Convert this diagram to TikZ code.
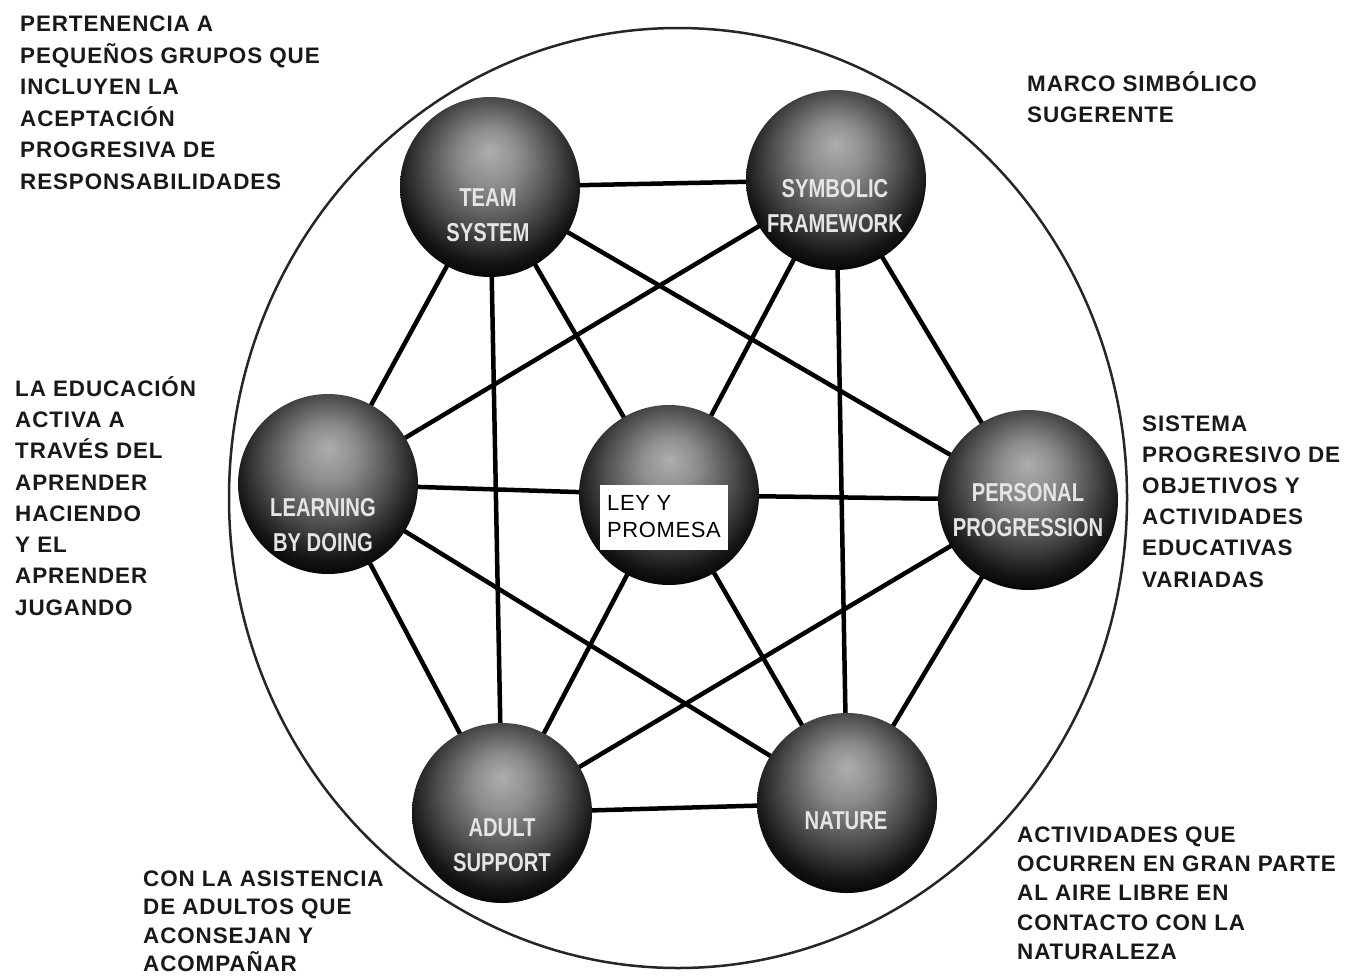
\documentclass[tikz,border=0pt]{standalone}
\usepackage{fontspec}
\setmainfont{Liberation Sans}
\newfontfamily\lblfont[LetterSpace=4]{Liberation Sans}
\newfontfamily\boxfont[LetterSpace=3]{Liberation Sans}
\usetikzlibrary{backgrounds}
\pgfdeclareradialshading{sphereshade}{\pgfpoint{0bp}{10bp}}{%
  color(0bp)=(black!32); color(8bp)=(black!45); color(18bp)=(black!70); color(26bp)=(black!92); color(31bp)=(black); color(50bp)=(black)}
\newcommand\sqz[1]{\scalebox{0.78}[1]{#1}}
\begin{document}
\begin{tikzpicture}[x=1bp,y=-1bp,
  edge/.style={line width=4.5bp, black, line cap=round},
  sphere/.style={circle, minimum size=180bp, inner sep=0pt, shading=sphereshade},
  sptext/.style={text=black!10, font=\bfseries\fontsize{26}{35}\selectfont, align=center, inner sep=0pt},
  lbl/.style={font=\lblfont\bfseries\fontsize{22.5}{#1}\selectfont, align=left, inner sep=0pt, anchor=north west, text=black!90}]
\useasboundingbox (0,0) rectangle (1353,975);

% spheres
\node[sphere] (ts) at (490,187) {};
\node[sphere] (sf) at (836,180) {};
\node[sphere] (ld) at (328,484) {};
\node[sphere] (c) at (669,495) {};
\node[sphere] (pp) at (1028,500) {};
\node[sphere] (adult) at (502,813) {};
\node[sphere] (na) at (847,803) {};

% sphere texts
\node[sptext] (tst) at (488,215) {\sqz{TEAM}\\\sqz{SYSTEM}};
\node[sptext] (sft) at (835,206) {\sqz{SYMBOLIC}\\\sqz{FRAMEWORK}};
\node[sptext] (ldt) at (323,525) {\sqz{LEARNING}\\\sqz{BY DOING}};
\node[sptext] (ppt) at (1028,510) {\sqz{PERSONAL}\\\sqz{PROGRESSION}};
\node[sptext] (adt) at (502,845) {\sqz{ADULT}\\\sqz{SUPPORT}};
\node[sptext] (nat) at (846,821) {\sqz{NATURE}};

% center box
\node[fill=white, inner xsep=2bp, inner ysep=3bp, minimum width=128bp, minimum height=65bp, align=left,
      font=\boxfont\fontsize{22}{27}\selectfont] (cbox) at (664,517) {LEY Y\\PROMESA};

% outer labels
\node[lbl=31.6] (l1) at (20,31.5-22) {\rule{0pt}{22bp}PERTENENCIA A\\PEQUEÑOS GRUPOS QUE\\INCLUYEN LA\\ACEPTACIÓN\\PROGRESIVA DE\\RESPONSABILIDADES};
\node[lbl=31.6] (l2) at (1027,91-22) {\rule{0pt}{22bp}MARCO SIMBÓLICO\\SUGERENTE};
\node[lbl=31.4] (l3) at (15,396-22) {\rule{0pt}{22bp}LA EDUCACIÓN\\ACTIVA A\\TRAVÉS DEL\\APRENDER\\HACIENDO\\Y EL\\APRENDER\\JUGANDO};
\node[lbl=31.3] (l4) at (1142,431-22) {\rule{0pt}{22bp}SISTEMA\\PROGRESIVO DE\\OBJETIVOS Y\\ACTIVIDADES\\EDUCATIVAS\\VARIADAS};
\node[lbl=28.5] (l5) at (143,886-22) {\rule{0pt}{22bp}CON LA ASISTENCIA\\DE ADULTOS QUE\\ACONSEJAN Y\\ACOMPAÑAR};
\node[lbl=29.5] (l6) at (1017,842-22) {\rule{0pt}{22bp}ACTIVIDADES QUE\\OCURREN EN GRAN PARTE\\AL AIRE LIBRE EN\\CONTACTO CON LA\\NATURALEZA};

\begin{scope}[on background layer]
  \fill[white] (0,0) rectangle (1353,975);
  \draw[line width=2.5bp, black!85] (678,498) ellipse [x radius=449, y radius=470];
  \draw[edge] (ts.center) -- (sf.center);
  \draw[edge] (ts.center) -- (pp.center);
  \draw[edge] (ts.center) -- (adult.center);
  \draw[edge] (ts.center) -- (ld.center);
  \draw[edge] (ts.center) -- (c.center);
  \draw[edge] (sf.center) -- (pp.center);
  \draw[edge] (sf.center) -- (na.center);
  \draw[edge] (sf.center) -- (ld.center);
  \draw[edge] (sf.center) -- (c.center);
  \draw[edge] (pp.center) -- (na.center);
  \draw[edge] (pp.center) -- (adult.center);
  \draw[edge] (pp.center) -- (c.center);
  \draw[edge] (na.center) -- (adult.center);
  \draw[edge] (na.center) -- (ld.center);
  \draw[edge] (na.center) -- (c.center);
  \draw[edge] (adult.center) -- (ld.center);
  \draw[edge] (adult.center) -- (c.center);
  \draw[edge] (ld.center) -- (c.center);
\end{scope}
\end{tikzpicture}
\end{document}
